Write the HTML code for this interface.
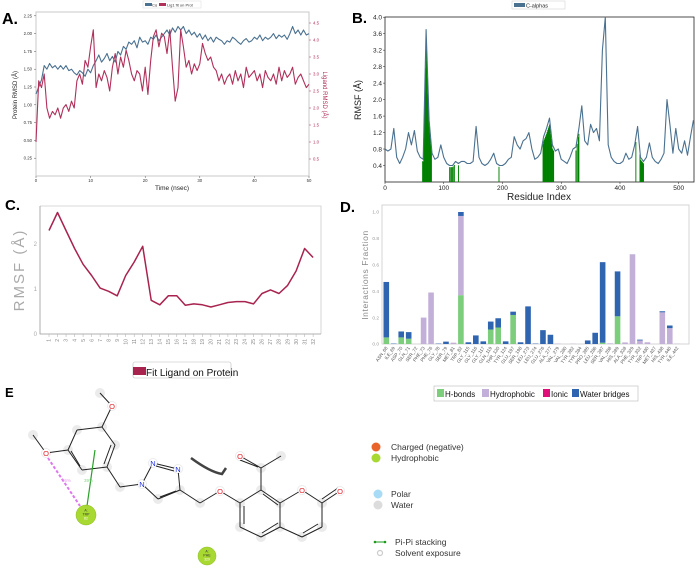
<!DOCTYPE html>
<html><head><meta charset="utf-8"><style>
html,body{margin:0;padding:0;background:#fff;}
svg{display:block;font-family:"Liberation Sans",sans-serif;}
</style></head><body>
<svg id="fig" width="696" height="568" viewBox="0 0 696 568" xmlns="http://www.w3.org/2000/svg">
<g id="pA"></g>
<g id="pB"></g>
<g id="pC"></g>
<g id="pD"></g>
<g id="pE"></g>
</svg>
<script>
// ---- Panel A data (sampled every 0.5 ns) ----
const timeStepA = 0.5;
const proteinRmsd = [1.15,1.25,1.35,1.55,1.5,1.58,1.52,1.55,1.5,1.55,
1.5,1.55,1.48,1.5,1.45,1.42,1.48,1.45,1.4,1.5,
1.45,1.55,1.62,1.7,1.6,1.65,1.72,1.62,1.68,1.6,
1.75,1.7,1.82,1.78,1.88,1.85,1.9,1.8,1.95,1.88,
1.9,1.85,1.95,1.92,1.98,1.9,1.95,2.0,2.05,1.98,
2.08,2.02,2.1,2.05,2.1,2.0,2.05,1.98,2.02,1.95,
2.0,1.92,1.98,1.9,1.95,1.88,1.95,1.92,1.9,1.85,
1.9,1.88,1.95,1.92,1.88,1.85,1.9,1.93,1.88,1.9,
1.95,1.92,1.98,1.9,1.95,1.92,1.95,2.0,1.93,1.98,
1.95,1.98,1.92,2.0,2.1,2.0,2.05,1.98,2.05,1.98,2.0];
const ligandRmsd = [1.0,2.8,2.6,3.0,2.0,1.7,1.9,1.8,2.0,1.7,
2.0,2.1,1.9,2.2,2.0,2.8,3.0,2.7,3.4,3.2,
3.8,4.3,2.6,3.0,2.8,3.1,2.9,2.5,3.2,3.6,
3.0,3.5,3.2,3.7,3.4,3.0,2.8,3.1,3.0,2.5,
3.2,2.4,3.4,4.1,4.3,3.8,4.2,4.1,3.6,4.3,
3.2,2.2,2.6,4.3,3.8,3.2,3.4,3.0,3.3,3.1,
3.3,3.9,3.6,3.4,3.5,3.2,3.1,2.8,3.0,2.7,
2.9,3.0,2.7,3.1,2.8,3.0,2.6,3.2,2.9,3.0,
3.1,2.8,3.0,2.6,3.1,2.9,2.8,3.0,2.7,3.2,
2.8,3.1,2.9,3.0,3.2,2.7,2.9,3.0,2.8,2.6,2.7];
const aLeftTicks = ["0.25","0.50","0.75","1.00","1.25","1.50","1.75","2.00","2.25"];
const aRightTicks = ["0.5","1.0","1.5","2.0","2.5","3.0","3.5","4.0","4.5"];
const aXTicks = ["0","10","20","30","40","50"];

// ---- Panel B data (RMSF sampled every 5 residues) ----
const residueStepB = 5;
const caRmsf = [0.8,0.75,0.8,1.3,0.6,0.45,0.6,0.8,1.2,0.9,
1.25,0.75,0.6,0.55,3.7,1.5,0.7,0.55,0.6,0.9,
0.6,0.45,0.4,0.4,0.5,0.45,0.5,0.5,0.45,0.45,
0.5,1.35,0.6,0.45,0.4,0.45,0.55,0.7,0.45,0.4,
0.4,0.45,0.55,0.6,1.1,0.9,0.8,1.0,1.05,1.2,
0.8,0.55,0.6,0.7,1.1,1.3,1.55,0.9,0.75,0.8,
0.55,0.5,0.45,0.6,0.8,0.85,1.3,1.85,1.0,0.9,
1.4,1.2,1.3,1.0,3.2,4.0,0.9,0.6,0.5,0.45,
0.45,0.5,0.7,0.55,0.6,0.9,1.35,0.6,0.5,0.6,
0.95,0.6,0.5,0.45,0.55,0.7,2.0,1.4,0.7,1.3,
0.8,0.7,1.0,0.65,1.1,1.5];
const contactResidues = [64,65,66,67,68,69,70,71,72,73,74,75,76,77,78,79,110,112,113,115,116,118,125,194,
269,270,271,272,273,274,275,276,277,278,279,280,281,282,283,284,285,286,287,325,327,329,330,427,434,435,436,437,438,439,440];
const bYTicks = ["0.4","0.8","1.2","1.6","2.0","2.4","2.8","3.2","3.6","4.0"];
const bXTicks = ["0","100","200","300","400","500"];

// ---- Panel C data ----
const ligAtoms = [1,2,3,4,5,6,7,8,9,10,11,12,13,14,15,16,17,18,19,20,21,22,23,24,25,26,27,28,29,30,31,32];
const ligRmsf = [2.3,2.7,2.3,1.9,1.55,1.3,1.02,0.95,0.85,1.3,1.6,1.95,0.75,0.65,0.85,0.85,0.64,0.67,0.65,0.6,0.65,0.7,0.72,0.72,0.67,0.9,0.98,0.9,1.08,1.4,1.9,1.7];
const cYTicks = ["0","1","2"];

// ---- Panel D data ----
const residues = ["ASN_68","ILE_69","ASP_70","GLN_71","SER_72","PHE_73","PHE_76","GLY_78","SER_79","MET_81","TRP_82","GLY_115","GLY_116","GLY_117","GLN_119","THR_120","TYR_124","GLU_197","SER_198","LEU_273","LEU_274","GLU_276","ALA_277","VAL_279","VAL_280","TYR_282","TYR_284","PRO_285","LEU_286","SER_287","VAL_288","HIS_289","ALA_328","PHE_329","TYR_332","TRP_430","MET_437","HIS_438","TYR_440","ILE_442"];
const hbonds =      [0.05,0,0.05,0.04,0,0,0,0,0,0,0.37,0,0,0,0.11,0.125,0,0.22,0,0,0,0,0,0,0,0,0,0,0,0.01,0,0.21,0,0,0,0,0,0,0,0];
const hydrophobic = [0,0,0,0,0,0.20,0.39,0,0,0.01,0.60,0,0,0,0,0,0,0,0,0,0,0,0,0.003,0,0.002,0,0,0,0,0.005,0,0.012,0.68,0.027,0.013,0,0.24,0.12,0.002];
const ionic =       [0,0,0,0,0,0,0,0,0,0,0,0,0,0,0,0,0,0,0,0,0,0,0,0,0,0,0,0,0,0,0,0,0,0,0,0,0,0,0,0];
const waterBridges =[0.42,0.003,0.045,0.05,0,0,0,0.003,0.018,0,0.03,0.013,0.065,0.02,0.06,0.07,0.02,0.025,0.013,0.285,0.003,0.105,0.07,0,0,0,0,0.027,0.085,0.61,0,0.34,0,0,0.006,0,0,0.008,0.02,0];
const dYTicks = ["0.0","0.2","0.4","0.6","0.8","1.0"];

const NS="http://www.w3.org/2000/svg";
function mk(parent, tag, attrs, text){
  const e=document.createElementNS(NS,tag);
  for(const k in attrs) e.setAttribute(k,attrs[k]);
  if(text!==undefined) e.textContent=text;
  parent.appendChild(e); return e;
}
function polyPts(xs, ys){ return xs.map((x,i)=>x.toFixed(1)+","+ys[i].toFixed(1)).join(" "); }

// ===== Panel A =====
(function(){
  const g=document.getElementById('pA');
  const x0=36,x1=309,yTop=12,yBot=176;
  const xA=t=>x0+(t/50)*(x1-x0);
  const yL=v=>176-v*71.2;
  const yR=v=>176-v*34;
  let t=mk(g,'text',{x:2,y:24,'font-size':16,'font-weight':'bold'},'A.');
  
  
  let r=mk(g,'rect',{x:x0,y:yTop,width:x1-x0,height:yBot-yTop,fill:'none',stroke:'#c8c8c8','stroke-width':1});
  
  
  let lg=mk(g,'g',{});
  
  
  mk(lg,'rect',{x:143,y:1,width:58,height:7,fill:'#fff',stroke:'#ddd','stroke-width':0.5});
  mk(lg,'rect',{x:145,y:3,width:7,height:3,fill:'#4a7190'});
  mk(lg,'text',{x:152,y:6.5,'font-size':4,fill:'#333'},'Cα');
  mk(lg,'rect',{x:159,y:3,width:7,height:3,fill:'#b0305a'});
  mk(lg,'text',{x:167,y:6.5,'font-size':4,fill:'#333'},'Lig1 fit on Prot');
  aLeftTicks.forEach(s=>{const v=+s;const y=yL(v);
    mk(g,'line',{x1:x0-2,y1:y,x2:x0,y2:y,stroke:'#555','stroke-width':0.5});
    let e=mk(g,'text',{x:x0-4,y:y+1.5,'font-size':4.3,'text-anchor':'end',fill:'#333'},s);
    
    });
  aRightTicks.forEach(s=>{const v=+s;const y=yR(v);
    mk(g,'line',{x1:x1,y1:y,x2:x1+2,y2:y,stroke:'#b0305a','stroke-width':0.5});
    let e=mk(g,'text',{x:x1+4,y:y+1.5,'font-size':4.3,fill:'#b0305a'},s);
    
    });
  aXTicks.forEach(s=>{const x=xA(+s);
    mk(g,'line',{x1:x,y1:yBot,x2:x,y2:yBot+2,stroke:'#555','stroke-width':0.5});
    let e=mk(g,'text',{x:x,y:yBot+6,'font-size':4.3,'text-anchor':'middle',fill:'#333'},s);
    
    });
  let xl=mk(g,'text',{x:172,y:190,'font-size':6.5,'text-anchor':'middle',fill:'#222'},'Time (nsec)');
  
  
  let yl=mk(g,'text',{x:0,y:0,'font-size':6,'text-anchor':'middle',fill:'#222',transform:'translate(17,95) rotate(-90)'},'Protein RMSD (Å)');
  
  
  let yr=mk(g,'text',{x:0,y:0,'font-size':6,'text-anchor':'middle',fill:'#b0305a',transform:'translate(323,95) rotate(90)'},'Ligand RMSD (Å)');
  
  
  const ts=proteinRmsd.map((_,i)=>i*timeStepA);
  let pl=mk(g,'polyline',{points:polyPts(ts.map(xA),proteinRmsd.map(yL)),fill:'none',stroke:'#4a7190','stroke-width':1.1,'stroke-linejoin':'round'});
  
  
  const tl=ligandRmsd.map((_,i)=>i*timeStepA);
  let ll=mk(g,'polyline',{points:polyPts(tl.map(xA),ligandRmsd.map(yR)),fill:'none',stroke:'#b0305a','stroke-width':1.1,'stroke-linejoin':'round'});
  
  
})();

// ===== Panel B =====
(function(){
  const g=document.getElementById('pB');
  const x0=385,x1=694,yTop=17,yBot=182;
  const xB=r=>x0+(r/526)*(x1-x0);
  const yB=v=>yBot-v*41.2;
  let t=mk(g,'text',{x:352,y:23,'font-size':15,'font-weight':'bold'},'B.');
  
  
  let r=mk(g,'rect',{x:x0,y:yTop,width:x1-x0,height:yBot-yTop,fill:'none',stroke:'#222','stroke-width':0.8});
  
  
  let lg=mk(g,'g',{});
  
  
  mk(lg,'rect',{x:512,y:1,width:53,height:8,fill:'#fff',stroke:'#ccc','stroke-width':0.5});
  mk(lg,'rect',{x:514,y:3,width:11,height:4,fill:'#4a7190'});
  mk(lg,'text',{x:526,y:7.5,'font-size':5.5,fill:'#222'},'C-alphas');
  const interp=res=>{const i=res/residueStepB;const a=Math.floor(i),b=Math.min(a+1,caRmsf.length-1);const f=i-a;return caRmsf[a]*(1-f)+caRmsf[b]*f;};
  contactResidues.forEach(res=>{
    const v=interp(res)*0.9;
    let b=mk(g,'rect',{x:xB(res)-0.45,y:yB(v),width:0.95,height:yBot-yB(v),fill:'#008000'});
    
    
  });
  const rs=caRmsf.map((_,i)=>Math.min(i*residueStepB,526));
  let pl=mk(g,'polyline',{points:polyPts(rs.map(xB),caRmsf.map(v=>yB(Math.min(v,4.0)))),fill:'none',stroke:'#4a7190','stroke-width':1.1,'stroke-linejoin':'round'});
  
  
  bYTicks.forEach(s=>{const y=yB(+s);
    mk(g,'line',{x1:x0-2,y1:y,x2:x0,y2:y,stroke:'#222','stroke-width':0.5});
    let e=mk(g,'text',{x:x0-3,y:y+2.3,'font-size':6.5,'text-anchor':'end',fill:'#222'},s);
    
    });
  bXTicks.forEach(s=>{const x=xB(+s);
    mk(g,'line',{x1:x,y1:yBot,x2:x,y2:yBot+2,stroke:'#222','stroke-width':0.5});
    let e=mk(g,'text',{x:x,y:yBot+8,'font-size':6.5,'text-anchor':'middle',fill:'#222'},s);
    
    });
  let xl=mk(g,'text',{x:539,y:200,'font-size':10,'text-anchor':'middle',fill:'#222'},'Residue Index');
  
  
  let yl=mk(g,'text',{x:0,y:0,'font-size':9,'text-anchor':'middle',fill:'#222',transform:'translate(361,100) rotate(-90)'},'RMSF (Å)');
  
  
})();

// ===== Panel C =====
(function(){
  const g=document.getElementById('pC');
  const x0=40,x1=321,yTop=206,yBot=334;
  const xC=a=>49+(a-1)*8.52;
  const yC=v=>yBot-v*45;
  let t=mk(g,'text',{x:5,y:210,'font-size':15,'font-weight':'bold'},'C.');
  
  
  mk(g,'polyline',{points:`${x0},${yTop} ${x1},${yTop} ${x1},${yBot}`,fill:'none',stroke:'#ccc','stroke-width':0.8});
  let ax=mk(g,'polyline',{points:`${x0},${yTop} ${x0},${yBot} ${x1},${yBot}`,fill:'none',stroke:'#999','stroke-width':0.8});
  
  
  cYTicks.forEach(s=>{const y=yC(+s);
    let e=mk(g,'text',{x:x0-3,y:y+2,'font-size':6,'text-anchor':'end',fill:'#aaa'},s);
    
    });
  ligAtoms.forEach(a=>{const x=xC(a);
    mk(g,'line',{x1:x,y1:yBot,x2:x,y2:yBot+3,stroke:'#aaa','stroke-width':0.5});
    let e=mk(g,'text',{x:0,y:0,'font-size':5,'text-anchor':'end',fill:'#888',transform:`translate(${x+1.7},${yBot+5}) rotate(-90)`},String(a));
    
    });
  let yl=mk(g,'text',{x:0,y:0,'font-size':15,'text-anchor':'middle',fill:'#aaa','letter-spacing':'2',transform:'translate(24,270) rotate(-90)'},'RMSF (Å)');
  
  
  let pl=mk(g,'polyline',{points:polyPts(ligAtoms.map(xC),ligRmsf.map(yC)),fill:'none',stroke:'#a8234e','stroke-width':1.5,'stroke-linejoin':'round'});
  
  
  let lg=mk(g,'g',{});
  
  
  mk(lg,'rect',{x:133,y:362,width:98,height:16,rx:2,fill:'#fff',stroke:'#bbb','stroke-width':0.6});
  mk(lg,'rect',{x:133,y:367,width:13,height:8,fill:'#a8234e'});
  mk(lg,'text',{x:146,y:376,'font-size':10,fill:'#111'},'Fit Ligand on Protein');
})();

// ===== Panel D =====
(function(){
  const g=document.getElementById('pD');
  const x0=382,x1=689,yTop=205,yBot=344;
  const xD=i=>386.3+i*7.46;
  const yD=v=>yBot-v*132;
  const bw=5.6;
  let t=mk(g,'text',{x:340,y:212,'font-size':15,'font-weight':'bold'},'D.');
  
  
  let r=mk(g,'rect',{x:x0,y:yTop,width:x1-x0,height:yBot-yTop,fill:'none',stroke:'#ccc','stroke-width':0.8});
  
  
  dYTicks.forEach(s=>{const y=yD(+s);
    let e=mk(g,'text',{x:x0-3,y:y+1.7,'font-size':4.8,'text-anchor':'end',fill:'#999'},s);
    
    });
  let yl=mk(g,'text',{x:0,y:0,'font-size':8.5,'text-anchor':'middle',fill:'#888','letter-spacing':'0.6',transform:'translate(368,275) rotate(-90)'},'Interactions Fraction');
  
  
  residues.forEach((name,i)=>{
    const x=xD(i)-bw/2; let base=0;
    const parts=[[hbonds[i],'#7ccd7c','hbond'],[hydrophobic[i],'#c2b0d8','hydrophobic'],[ionic[i],'#e0107a','ionic'],[waterBridges[i],'#2f64b0','water-bridge']];
    parts.forEach(p=>{ if(p[0]>0){
      let b=mk(g,'rect',{x:x,y:yD(base+p[0]),width:bw,height:yD(base)-yD(base+p[0]),fill:p[1]});
      
      
      base+=p[0];}});
    let e=mk(g,'text',{x:0,y:0,'font-size':4.6,'text-anchor':'end',fill:'#555',transform:`translate(${xD(i)+1.5},${yBot+4}) rotate(-55)`},name);
    
    
  });
  let lg=mk(g,'g',{});
  
  
  mk(lg,'rect',{x:434,y:386,width:204,height:15,fill:'#fff',stroke:'#bbb','stroke-width':0.6});
  const items=[['H-bonds','#7ccd7c',437],['Hydrophobic','#c2b0d8',482],['Ionic','#e0107a',543],['Water bridges','#2f64b0',572]];
  items.forEach(it=>{
    mk(lg,'rect',{x:it[2],y:389,width:7,height:8,fill:it[1]});
    mk(lg,'text',{x:it[2]+8,y:397,'font-size':8,fill:'#111'},it[0]);
  });
})();

// ===== Panel E (ligand interaction diagram) =====
(function(){
  const g=document.getElementById('pE');
  let t=mk(g,'text',{x:5,y:397,'font-size':13,'font-weight':'bold'},'E');
  
  
  const atoms=[[100,393],[112,406],[102,427],[115,445],[107,467],[82,470],[68,450],[77,430],[46,453],[33,435],[120,487],
    [158,499],[180,490],[200,503],[240,503],[261,490],[280,503],[280,527],[261,537],[240,527],[322,503],[322,527],[302,537],[261,468],[281,456],[240,456],[340,491],[302,490],[142,484],[153,463],[178,469],[220,491]];
  atoms.forEach(a=>mk(g,'circle',{cx:a[0],cy:a[1],r:5,fill:'#e6e6e6',opacity:0.8}));
  const bonds=[[100,393,112,406],[112,406,102,427],[102,427,115,445],[115,445,107,467],[107,467,82,470],[82,470,68,450],[68,450,77,430],[77,430,102,427],
    [68,450,46,453],[46,453,33,435],[107,467,120,487],[120,487,142,484],[142,484,153,463],[153,463,178,469],[178,469,180,490],[180,490,158,499],[158,499,142,484],
    [180,490,200,503],[200,503,220,491],[220,491,240,503],[240,503,261,490],[261,490,280,503],[280,503,280,527],[280,527,261,537],[261,537,240,527],[240,527,240,503],
    [280,503,302,490],[302,490,322,503],[322,503,322,527],[322,527,302,537],[302,537,280,527],[322,503,340,491],[261,490,261,468],[261,468,281,456],[261,468,240,456]];
  const bg=mk(g,'g',{stroke:'#222','stroke-width':1,fill:'none'});
  
  
  bonds.forEach(b=>mk(bg,'line',{x1:b[0],y1:b[1],x2:b[2],y2:b[3]}));
  const dbl=[[111,445,104,464],[80,466,71,451],[156,466,174,471],[176,491,160,497],[263,494,278,505],[244,524,244,506],[278,523,262,533],[318,524,303,533],[322,499,338,488],[258,467,240,460]];
  dbl.forEach(b=>mk(bg,'line',{x1:b[0],y1:b[1],x2:b[2],y2:b[3]}));
  const hets=[[112,406,'O','#e8202a'],[46,453,'O','#e8202a'],[220,491,'O','#e8202a'],[302,490,'O','#e8202a'],[340,491,'O','#e8202a'],[240,456,'O','#e8202a'],[142,484,'N','#2030e0'],[153,463,'N','#2030e0'],[178,469,'N','#2030e0']];
  hets.forEach(h=>{mk(g,'circle',{cx:h[0],cy:h[1],r:4,fill:'#fff'});
    let e=mk(g,'text',{x:h[0],y:h[1]+2.8,'font-size':7.5,'text-anchor':'middle',fill:h[3]},h[2]);
    
    });
  let sw=mk(g,'path',{d:'M191,458 Q210,472 222,474 L226,468',fill:'none',stroke:'#222','stroke-width':2.5,opacity:0.85});
  
  
  let pk=mk(g,'line',{x1:48,y1:458,x2:80,y2:506,stroke:'#dd77ee','stroke-width':2,'stroke-dasharray':'3,2'});
  
  
  mk(g,'text',{x:62,y:482,'font-size':4.5,fill:'#e9a0f0'},'36%');
  let gr=mk(g,'line',{x1:95,y1:450,x2:87,y2:506,stroke:'#2aa02a','stroke-width':1.2});
  
  
  mk(g,'text',{x:84,y:482,'font-size':4.5,fill:'#8ed08e'},'39%');
  const res=[[86,515,'A:','TRP','82',10],[207,556,'A:','PHE','329',9]];
  res.forEach(r=>{
    let c=mk(g,'circle',{cx:r[0],cy:r[1],r:r[5],fill:'#a8d832',stroke:'#8cbc20','stroke-width':0.5});
    
    
    mk(g,'text',{x:r[0],y:r[1]-3.5,'font-size':3.5,'text-anchor':'middle',fill:'#333'},r[2]);
    mk(g,'text',{x:r[0],y:r[1]+0.5,'font-size':3.5,'text-anchor':'middle',fill:'#333'},r[3]);
    mk(g,'text',{x:r[0],y:r[1]+4.5,'font-size':3.5,'text-anchor':'middle',fill:'#fff'},r[4]);
  });
  let lg=mk(g,'g',{});
  
  
  const li=[[376,447,'Charged (negative)','#e8642a'],[376,458,'Hydrophobic','#a8d832'],[378,494,'Polar','#a8dcf4'],[378,505,'Water','#dcdcdc']];
  li.forEach(l=>{mk(lg,'circle',{cx:l[0],cy:l[1],r:4.5,fill:l[3]});
    mk(lg,'text',{x:391,y:l[1]+3,'font-size':8.5,fill:'#333'},l[2]);});
  mk(lg,'line',{x1:374,y1:542,x2:386,y2:542,stroke:'#1a9a1a','stroke-width':1});
  mk(lg,'circle',{cx:375,cy:542,r:1.3,fill:'#1a9a1a'});
  mk(lg,'circle',{cx:385,cy:542,r:1.3,fill:'#1a9a1a'});
  mk(lg,'text',{x:395,y:545,'font-size':8.5,fill:'#333'},'Pi-Pi stacking');
  mk(lg,'circle',{cx:380,cy:553,r:2.5,fill:'none',stroke:'#ccc','stroke-width':1.2});
  mk(lg,'text',{x:395,y:556,'font-size':8.5,fill:'#333'},'Solvent exposure');
})();
</script>
</body></html>
